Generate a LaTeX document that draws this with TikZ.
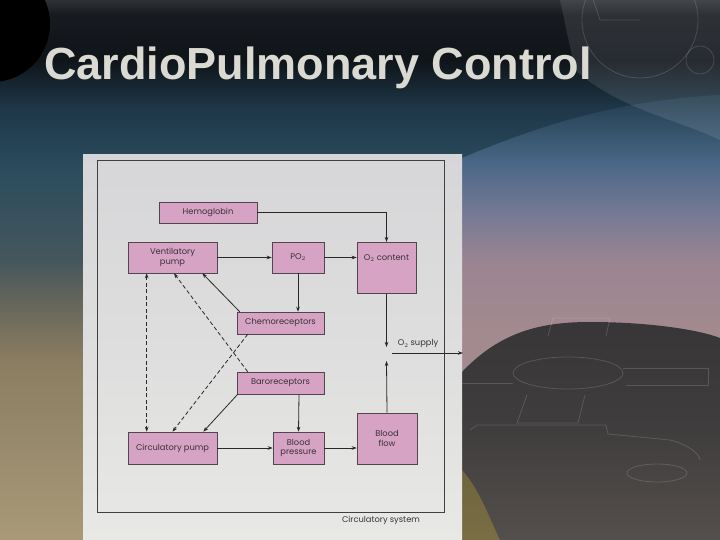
\documentclass[tikz,border=0pt]{standalone}
\usepackage{fontspec}
\setmainfont{Poppins}
\newfontfamily\titlefont{Liberation Sans}
\usetikzlibrary{arrows.meta,calc}
\definecolor{pinkbox}{RGB}{214,163,196}
\definecolor{boxline}{RGB}{80,70,78}
\definecolor{ink}{RGB}{40,40,40}
\definecolor{txtc}{RGB}{55,50,55}
\definecolor{titlec}{RGB}{218,218,210}
\pgfdeclareverticalshading{bgmain}{100bp}{%
 rgb(0bp)=(0.66,0.60,0.47);
 rgb(25bp)=(0.66,0.60,0.47);
 rgb(41.7bp)=(0.54,0.49,0.38);
 rgb(47bp)=(0.40,0.40,0.36);
 rgb(50.9bp)=(0.27,0.34,0.36);
 rgb(59.3bp)=(0.17,0.30,0.37);
 rgb(64.8bp)=(0.12,0.22,0.29);
 rgb(69.4bp)=(0.06,0.08,0.10);
 rgb(73.6bp)=(0.09,0.10,0.12);
 rgb(75bp)=(0.18,0.19,0.21);
 rgb(100bp)=(0.18,0.19,0.21)}
\pgfdeclareverticalshading{bgright}{100bp}{%
 rgb(0bp)=(0.64,0.54,0.56);
 rgb(48.6bp)=(0.64,0.54,0.56);
 rgb(56.5bp)=(0.60,0.52,0.57);
 rgb(62.1bp)=(0.45,0.47,0.58);
 rgb(67.7bp)=(0.28,0.40,0.52);
 rgb(75bp)=(0.13,0.23,0.30);
 rgb(100bp)=(0.13,0.23,0.30)}
\pgfdeclareverticalshading{bgdark}{100bp}{%
 rgb(0bp)=(0.33,0.31,0.30);
 rgb(25bp)=(0.33,0.31,0.30);
 rgb(50bp)=(0.25,0.24,0.24);
 rgb(75bp)=(0.22,0.21,0.22);
 rgb(100bp)=(0.22,0.21,0.22)}
\pgfdeclareverticalshading{papershade}{100bp}{%
 rgb(0bp)=(0.91,0.91,0.90);
 rgb(25bp)=(0.91,0.91,0.90);
 rgb(50bp)=(0.87,0.87,0.87);
 rgb(75bp)=(0.84,0.84,0.85);
 rgb(100bp)=(0.84,0.84,0.85)}
\tikzset{
 box/.style={draw=boxline, line width=0.6pt, fill=pinkbox, inner sep=1pt,
   font=\fontsize{8.3}{9.3}\selectfont, text=txtc, align=center},
 lbl/.style={font=\fontsize{8.3}{9.3}\selectfont, text=txtc, inner sep=1pt},
 arr/.style={draw=ink, line width=0.8pt, -{Stealth[length=5pt,width=3.6pt]}},
 darr/.style={arr, dash pattern=on 4pt off 2.5pt},
 gear/.style={draw=white, opacity=0.15, line width=0.8pt}
}
\begin{document}
\begin{tikzpicture}[x=1pt,y=-1pt]
\useasboundingbox (0,0) rectangle (720,540);
% background
\shade[shading=bgmain] (0,0) rectangle (720,540);
\shade[shading=bgright] (462,158) .. controls (540,125) and (620,100) .. (720,95) -- (720,540) -- (462,540) -- cycle;
\fill[white, opacity=0.10] (560,0) -- (720,0) -- (720,140) .. controls (680,120) and (620,110) .. (575,70) -- cycle;
\shade[shading=bgdark] (462,372) .. controls (500,332) and (540,322) .. (590,322)
  .. controls (650,322) and (700,330) .. (720,338) -- (720,540) -- (462,540) -- cycle;
\fill[yellow!60!brown, opacity=0.25] (462,470) .. controls (480,490) and (490,520) .. (500,540) -- (462,540) -- cycle;
% faint gear outlines
\draw[gear] (568,373) ellipse (55 and 16);
\draw[gear] (657,473) ellipse (30 and 9);
\draw[gear] (548,336) -- (553,318) -- (610,318) -- (606,336);
\draw[gear] (513,383) -- (462,383);
\draw[gear] (623,368) -- (708,368) -- (708,385) -- (626,385);
\draw[gear] (527,395) -- (517,423) -- (578,423) -- (585,395);
\draw[gear] (470,430) -- (477,425) -- (606,425) -- (608,434) -- (670,440) .. controls (690,445) and (700,455) .. (700,460);
\draw[gear] (640,20) circle (58);
\draw[gear] (700,60) circle (14);
\draw[gear] (590,-10) -- (600,20) -- (640,20);
% black circle
\fill[black] (-8,24) circle (58);
% title
\node[anchor=base west, inner sep=0, text=titlec, font=\titlefont\bfseries\fontsize{45}{45}\selectfont] (title) at (44,80) {CardioPulmonary Control};
% paper
\shade[shading=papershade] (83,155) rectangle (462,540);
\draw[black!75, line width=0.8pt] (97,160) rectangle (444,512);
% boxes
\node[box, minimum width=98, minimum height=21] (hemo) at (208,212.5) {Hemoglobin};
\node[box, minimum width=89, minimum height=31] (vent) at (172.5,257.5) {Ventilatory\\pump};
\node[box, minimum width=52, minimum height=31] (po2) at (298,257.5) {PO$_2$};
\node[box, minimum width=59, minimum height=51, anchor=north] (o2c) at (386.5,242) {};
\node[lbl] (o2ct) at (386.5,258) {O$_2$ content};
\node[box, minimum width=87, minimum height=22] (chemo) at (280.5,323) {Chemoreceptors};
\node[box, minimum width=87, minimum height=22] (baro) at (280.5,383) {Baroreceptors};
\node[box, minimum width=89, minimum height=32] (circ) at (172.5,448) {Circulatory pump};
\node[box, minimum width=51, minimum height=32] (bp) at (298.5,448) {Blood\\pressure};
\node[box, minimum width=60, minimum height=51] (bf) at (387,438.5) {Blood\\flow};
\node[lbl] (supl) at (418,344) {O$_2$ supply};
\node[lbl] (circsys) at (381,520) {Circulatory system};
% connectors
\coordinate (sup1) at (386.5,347);
\coordinate (sup2) at (386.5,361);
\coordinate (supa) at (392,353);
\coordinate (supb) at (463,353);
\draw[arr] (hemo.east) -| (o2c.north);
\draw[arr] (vent.east) -- (po2.west);
\draw[arr] (po2.east) -- (po2.east -| o2c.west);
\draw[arr] (po2.south) -- (po2.south |- chemo.north);
\draw[arr] (o2c.south) -- (sup1);
\draw[arr] (bf.north) -- (sup2);
\draw[arr] (supa) -- (supb);
\draw[arr] ($(chemo.north west)+(3,0)$) -- ($(vent.south east)+(-15,0)$);
\draw[darr] ($(baro.north west)+(11,0)$) -- ($(vent.south)+(1.5,0)$);
\draw[darr] ($(chemo.south west)+(11,0)$) -- (circ.north);
\draw[arr] ($(baro.south west)+(1,0)$) -- ($(circ.north east)+(-14,0)$);
\draw[arr] ($(baro.south)+(18.5,0)$) -- ($(bp.north)$);
\draw[arr] (circ.east) -- (bp.west);
\draw[arr] (bp.east) -- (bp.east -| bf.west);
\draw[darr, {Stealth[length=5pt,width=3.6pt]}-{Stealth[length=5pt,width=3.6pt]}] ($(vent.south west)+(19,0)$) -- ($(circ.north west)+(19,0)$);
\end{tikzpicture}
\end{document}
